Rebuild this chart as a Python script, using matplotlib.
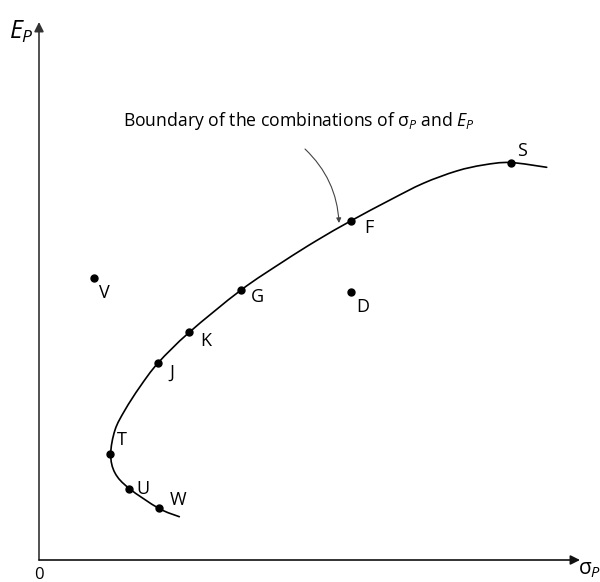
import matplotlib.pyplot as plt
from matplotlib.path import Path
from matplotlib.patches import PathPatch
import numpy as np

plt.rcParams['font.family'] = ['Open Sans', 'DejaVu Sans']
plt.rcParams['mathtext.fontset'] = 'custom'
plt.rcParams['mathtext.rm'] = 'Open Sans'
plt.rcParams['mathtext.it'] = 'Open Sans:italic'

# frontier curve (sigma_P, E_P), read along the drawn boundary
curve_sigma = [14.03, 11.97, 9.0, 7.6, 7.17, 7.6, 8.6, 10.1, 11.93, 15.03,
               20.17, 24.43, 27.77, 31.2, 35.1, 38.43, 41.77, 44.43, 47.1, 50.77]
curve_E = [4.33, 5.17, 7.17, 8.7, 10.57, 13.0, 15.0, 17.33, 19.73, 22.77,
           26.97, 29.85, 31.95, 33.92, 36.0, 37.67, 38.9, 39.5, 39.75, 39.27]

# portfolios
names = ['S', 'F', 'G', 'K', 'J', 'T', 'U', 'W', 'V', 'D']
sigma = [47.17, 31.2, 20.17, 15.03, 11.93, 7.15, 9.0, 11.97, 5.53, 31.25]
E = [39.75, 33.92, 26.97, 22.78, 19.73, 10.58, 7.15, 5.18, 28.22, 26.85]
# label offsets in points
offs = [(8, 8), (13, -5), (12, -5), (12, -6), (10, -7), (8, 10), (10, 0), (14, 6), (7, -11), (8, -11)]


def smooth_path(xs, ys):
    # Catmull-Rom through the points, drawn as cubic Bezier segments
    p = np.column_stack([xs, ys])
    verts = [p[0]]
    codes = [Path.MOVETO]
    for i in range(len(p) - 1):
        p0 = p[i - 1] if i > 0 else p[i]
        p3 = p[i + 2] if i + 2 < len(p) else p[i + 1]
        c1 = p[i] + (p[i + 1] - p0) / 6
        c2 = p[i + 1] - (p3 - p[i]) / 6
        verts += [c1, c2, p[i + 1]]
        codes += [Path.CURVE4] * 3
    return Path(verts, codes)


fig = plt.figure(figsize=(6, 5.82), dpi=100)
ax = fig.add_axes([39/600, 22/582, 541/600, 538/582])
ax.set_xlim(0, 54.1)
ax.set_ylim(0, 53.8)
ax.axis('off')

ax.add_patch(PathPatch(smooth_path(curve_sigma, curve_E), fill=False,
                       edgecolor='black', lw=1.2, capstyle='round'))
ax.plot(sigma, E, 'o', color='black', ms=5)
for n, x, y, o in zip(names, sigma, E, offs):
    ax.annotate(n, (x, y), xytext=o, textcoords='offset points',
                ha='center', va='center', fontsize=13)

# axes with arrow heads
ax.annotate('', xy=(0, 1), xytext=(0, 0), xycoords='axes fraction',
            arrowprops=dict(arrowstyle='-|>', color='#333333', lw=1.2,
                            mutation_scale=14, shrinkA=0, shrinkB=0))
ax.annotate('', xy=(1, 0), xytext=(0, 0), xycoords='axes fraction',
            arrowprops=dict(arrowstyle='-|>', color='#111111', lw=1.2,
                            mutation_scale=14, shrinkA=0, shrinkB=0))
ax.text(0, -1.5, '0', ha='center', va='center', fontsize=12, clip_on=False)
ax.text(-0.5, 52.8, r'$E_P$', ha='right', va='center', fontsize=18, clip_on=False)
ax.text(53.9, -1.0, r'$\mathrm{σ}_P$', ha='left', va='center', fontsize=15, clip_on=False)

# annotation for the boundary
ax.text(8.4, 43.4, r'Boundary of the combinations of $\mathrm{σ}_P$ and $E_P$',
        ha='left', va='baseline', fontsize=12.7)
ax.annotate('', xy=(30.0, 33.7), xytext=(26.6, 41.1),
            arrowprops=dict(arrowstyle='-|>', color='#444444', lw=0.8,
                            mutation_scale=7, shrinkA=0, shrinkB=0,
                            connectionstyle='arc3,rad=-0.2'))

fig.savefig('out.png', dpi=100)
